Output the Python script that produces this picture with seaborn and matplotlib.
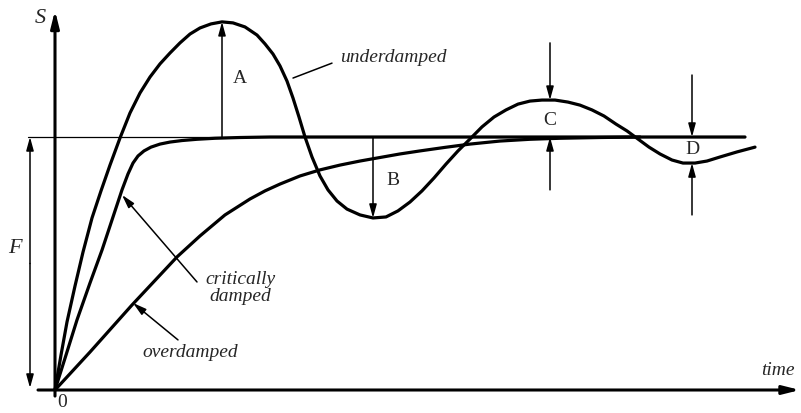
import matplotlib
matplotlib.use("Agg")
import matplotlib.pyplot as plt
import seaborn as sns
import pandas as pd

# response curves, time in arbitrary units, S normalised so that F = 1
under_t = [0.00, 0.06, 0.12, 0.20, 0.28, 0.37, 0.46, 0.55, 0.65, 0.75,
           0.85, 0.95, 1.05, 1.15, 1.25, 1.35, 1.45, 1.56, 1.67, 1.78,
           1.90, 2.02, 2.10, 2.18, 2.25, 2.32, 2.38, 2.44, 2.50, 2.57,
           2.65, 2.73, 2.82, 2.92, 3.05, 3.18, 3.31, 3.43, 3.55, 3.67,
           3.79, 3.91, 4.03, 4.15, 4.27, 4.39, 4.51, 4.63, 4.75, 4.87,
           5.00, 5.13, 5.25, 5.37, 5.49, 5.61, 5.72, 5.83, 5.94, 6.05,
           6.17, 6.28, 6.40, 6.52, 6.65, 6.82, 7.00]
under_s = [0.000, 0.138, 0.269, 0.411, 0.545, 0.680, 0.787, 0.889, 0.996, 1.095,
           1.174, 1.237, 1.289, 1.332, 1.372, 1.407, 1.431, 1.447, 1.455, 1.451,
           1.435, 1.403, 1.368, 1.328, 1.281, 1.221, 1.154, 1.079, 1.000, 0.921,
           0.846, 0.791, 0.747, 0.715, 0.692, 0.680, 0.684, 0.708, 0.743, 0.787,
           0.838, 0.893, 0.945, 0.992, 1.040, 1.079, 1.107, 1.130, 1.142, 1.146,
           1.146, 1.138, 1.126, 1.107, 1.083, 1.051, 1.024, 0.992, 0.960, 0.933,
           0.909, 0.897, 0.897, 0.905, 0.921, 0.941, 0.960]

crit_t = [0.00, 0.11, 0.22, 0.35, 0.47, 0.57, 0.67, 0.73, 0.78, 0.83,
          0.89, 0.96, 1.05, 1.15, 1.27, 1.42, 1.60, 1.85, 2.15, 6.90]
crit_s = [0.000, 0.138, 0.277, 0.423, 0.553, 0.672, 0.791, 0.854, 0.897, 0.925,
          0.945, 0.960, 0.972, 0.980, 0.986, 0.991, 0.995, 0.998, 1.000, 1.000]

over_t = [0.00, 0.35, 0.77, 1.22, 1.45, 1.70, 1.95, 2.10, 2.25, 2.45, 2.65, 2.85,
          3.05, 3.25, 3.45, 3.65, 3.90, 4.15, 4.45, 4.75, 5.05, 5.45, 5.85]
over_s = [0.000, 0.150, 0.336, 0.526, 0.609, 0.692, 0.755, 0.787, 0.814, 0.846, 0.870, 0.889,
          0.905, 0.919, 0.933, 0.945, 0.959, 0.972, 0.984, 0.991, 0.995, 0.998, 1.000]

F_level = 1.0
ref_t = [-0.27, 6.90]

# A and B: single arrows (time, from, to)
peak_marks = {'A': (1.67, 1.0, 1.455), 'B': (3.18, 1.0, 0.680)}

sns.set_style('white')
plt.rcParams['font.family'] = ['Liberation Serif', 'DejaVu Serif']

fig = plt.figure(figsize=(8.01, 4.13), dpi=100)
ax = fig.add_axes([0, 0, 1, 1])
ax.set_xlim(-0.55, 7.46)
ax.set_ylim(-23 / 253, 390 / 253)
ax.axis('off')

df = pd.concat([
    pd.DataFrame({'t': under_t, 'S': under_s, 'kind': 'underdamped'}),
    pd.DataFrame({'t': crit_t, 'S': crit_s, 'kind': 'critically damped'}),
    pd.DataFrame({'t': over_t, 'S': over_s, 'kind': 'overdamped'}),
])
sns.lineplot(data=df, x='t', y='S', units='kind', estimator=None, sort=False,
             color='black', lw=2.3, ax=ax, legend=False,
             solid_joinstyle='round', solid_capstyle='round')
ax.plot(ref_t, [F_level, F_level], color='black', lw=0.9, zorder=1)

def arrow(x0, y0, x1, y1, lw=1.1, hl=0.8, hw=0.22):
    ax.annotate('', xy=(x1, y1), xytext=(x0, y0),
                arrowprops=dict(arrowstyle=f'-|>,head_length={hl},head_width={hw}',
                                lw=lw, color='black', shrinkA=0, shrinkB=0,
                                mutation_scale=10))

# axes with arrow heads
arrow(-0.17, 0, 7.45, 0, lw=2.2, hl=1.0, hw=0.25)
arrow(0, -0.024, 0, 1.50, lw=2.2, hl=1.0, hw=0.25)

# F bracket
arrow(-0.25, 0.5, -0.25, F_level)
arrow(-0.25, 0.5, -0.25, 0.008)

for lab, (t, a, b) in peak_marks.items():
    arrow(t, a, t, b)
# C and D: pinching arrows
arrow(4.95, 1.372, 4.95, 1.146)
arrow(4.95, 0.791, 4.95, 1.0)
arrow(6.37, 1.245, 6.37, 1.0)
arrow(6.37, 0.692, 6.37, 0.897)

txt = dict(fontsize=14, ha='center', va='center')
ax.text(1.85, 1.233, 'A', **txt)
ax.text(3.38, 0.830, 'B', **txt)
ax.text(4.95, 1.067, 'C', **txt)
ax.text(6.37, 0.949, 'D', **txt)
ax.text(0.07, -0.051, '0', **txt)

it = dict(fontsize=14, ha='center', va='center', style='italic')
ax.text(-0.15, 1.470, 'S', fontsize=16, ha='center', va='center', style='italic')
ax.text(-0.40, 0.561, 'F', fontsize=16, ha='center', va='center', style='italic')
ax.text(7.23, 0.079, 'time', **it)
ax.text(3.38, 1.316, 'underdamped', **it)
ax.text(1.85, 0.403, 'critically\ndamped', linespacing=1.0, **it)
ax.text(1.35, 0.150, 'overdamped', **it)

# pointers to the curves
ax.plot([2.38, 2.77], [1.233, 1.292], color='black', lw=1.1)
arrow(1.42, 0.427, 0.67, 0.771)
arrow(1.23, 0.198, 0.78, 0.344)

fig.savefig('out.png', dpi=100)
